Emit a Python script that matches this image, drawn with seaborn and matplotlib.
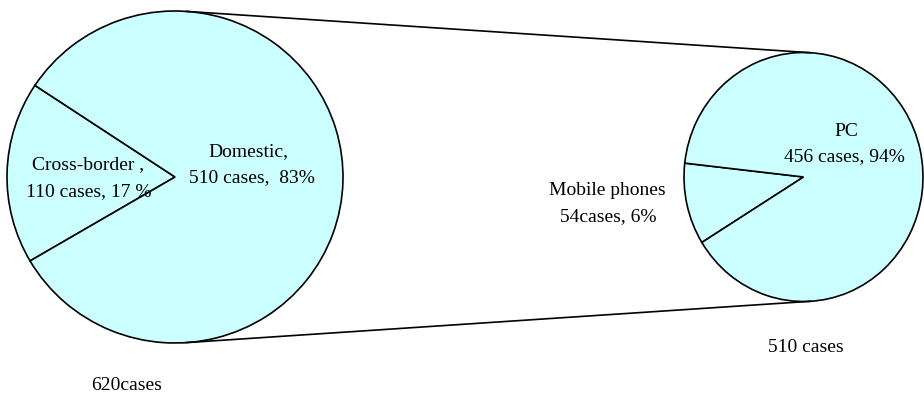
import numpy as np
import matplotlib
matplotlib.use("Agg")
import matplotlib.pyplot as plt
from matplotlib.patches import ConnectionPatch
import seaborn as sns

# ---- data ----
main_categories = ["Cross-border", "Domestic"]
main_values = [110, 510]
main_labels = [["Cross-border ,", "110 cases, 17 %"], ["Domestic,", "510 cases,  83%"]]
main_total_label = "620cases"

sub_categories = ["Mobile phones", "PC"]
sub_values = [54, 456]
sub_labels = [["Mobile phones", "54cases, 6%"], ["PC", "456 cases, 94%"]]
sub_total_label = "510 cases"

sns.set_theme(style="white")
plt.rcParams["font.family"] = ["Liberation Serif", "DejaVu Serif"]

W, H = 924, 396
fig = plt.figure(figsize=(W / 100, H / 100), dpi=100)
fig.patch.set_facecolor("white")

fill = "#CCFFFF"
edge_kw = dict(edgecolor="black", linewidth=1.2)


def px_axes(cx, cy, rx, ry):
    return fig.add_axes([(cx - rx) / W, 1 - (cy + ry) / H, 2 * rx / W, 2 * ry / H])


# big pie
axA = px_axes(175, 177, 168, 166)
axA.pie(main_values, colors=[fill, fill], startangle=146.5, counterclock=True,
        radius=1, wedgeprops=edge_kw)
axA.set_aspect("auto")
axA.set_xlim(-1, 1)
axA.set_ylim(-1, 1)
axA.axis("off")

# small pie
axB = px_axes(803.5, 177, 119.5, 124.5)
axB.pie(sub_values, colors=[fill, fill], startangle=173.6, counterclock=True,
        radius=1, wedgeprops=edge_kw)
axB.set_aspect("auto")
axB.set_xlim(-1, 1)
axB.set_ylim(-1, 1)
axB.axis("off")

# connecting tangent lines
for ang in (86.3, -86.3):
    t = np.deg2rad(ang)
    con = ConnectionPatch(xyA=(np.cos(t), np.sin(t)), coordsA=axA.transData,
                          xyB=(np.cos(t), np.sin(t)), coordsB=axB.transData,
                          color="black", linewidth=1.2)
    fig.add_artist(con)

fs = 14


def ftext(x, y, s):
    fig.text(x / W, 1 - y / H, s, ha="center", va="center", fontsize=fs, color="black")


# labels
ftext(88, 165, main_labels[0][0])
ftext(89, 192, main_labels[0][1])
ftext(248, 152, main_labels[1][0])
ftext(252, 178, main_labels[1][1])

ftext(607, 191, sub_labels[0][0])
ftext(608, 217, sub_labels[0][1])
ftext(846, 131, sub_labels[1][0])
ftext(844, 157, sub_labels[1][1])

ftext(806, 348, sub_total_label)
ftext(127, 386, main_total_label)

fig.savefig("out.png", dpi=100, facecolor="white")
